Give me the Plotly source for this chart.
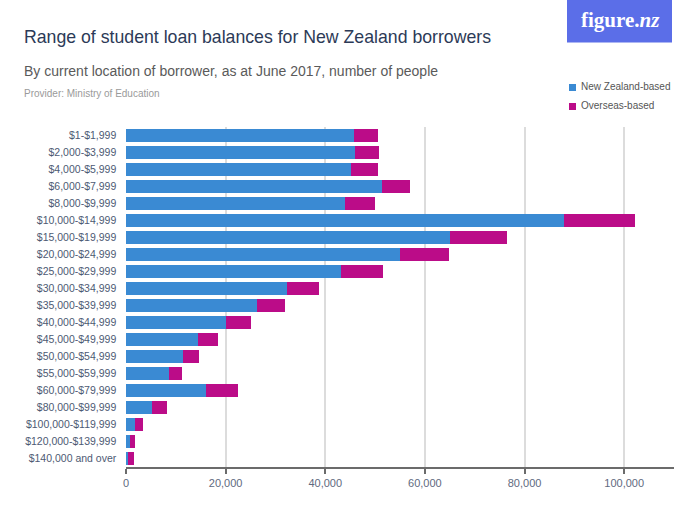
import plotly.graph_objects as go

# Loan balance bands (top to bottom)
categories = [
    "$1-$1,999", "$2,000-$3,999", "$4,000-$5,999", "$6,000-$7,999",
    "$8,000-$9,999", "$10,000-$14,999", "$15,000-$19,999", "$20,000-$24,999",
    "$25,000-$29,999", "$30,000-$34,999", "$35,000-$39,999", "$40,000-$44,999",
    "$45,000-$49,999", "$50,000-$54,999", "$55,000-$59,999", "$60,000-$79,999",
    "$80,000-$99,999", "$100,000-$119,999", "$120,000-$139,999", "$140,000 and over",
]

# Number of borrowers by current location
nz_based = [45800, 45900, 45100, 51400, 43900, 87900, 65000, 55000, 43100, 32400,
            26300, 20000, 14500, 11400, 8600, 16100, 5200, 1900, 800, 500]
overseas_based = [4700, 4900, 5500, 5700, 6000, 14200, 11400, 9800, 8500, 6400,
                  5700, 5000, 3900, 3200, 2600, 6400, 3000, 1600, 1000, 1200]

series_names = ["New Zealand-based", "Overseas-based"]

x_ticks = [0, 20000, 40000, 60000, 80000, 100000]
x_tick_labels = ["0", "20,000", "40,000", "60,000", "80,000", "100,000"]

BLUE = "#3a8ad3"
MAGENTA = "#bb0c88"
FONT = "Liberation Sans"

W, H = 700, 525
L, R, T, B = 126, 26, 127, 58
PW, PH = W - L - R, H - T - B


def px(x):
    return (x - L) / PW


def py(y):
    return (H - B - y) / PH


fig = go.Figure()
for name, values, color in zip(series_names, [nz_based, overseas_based], [BLUE, MAGENTA]):
    fig.add_trace(go.Bar(
        y=categories, x=values, orientation="h", name=name,
        marker=dict(color=color, line=dict(width=0)),
    ))

fig.update_layout(
    width=W, height=H, autosize=False,
    margin=dict(l=L, r=R, t=T, b=B),
    paper_bgcolor="white", plot_bgcolor="white",
    barmode="stack", bargap=0.2,
    font=dict(family=FONT, size=11, color="#56627a"),
    xaxis=dict(
        range=[0, 110000], tickvals=x_ticks, ticktext=x_tick_labels,
        showgrid=True, gridcolor="#dcdcdc", gridwidth=1.5,
        showline=True, linecolor="#6b6b6b", linewidth=1.5,
        ticks="outside", ticklen=5, tickcolor="#6b6b6b", tickwidth=1.5,
        tickfont=dict(size=11, color="#5f6a80"), zeroline=False, fixedrange=True,
    ),
    yaxis=dict(
        autorange="reversed", showgrid=False, showline=False, ticks="",
        tickfont=dict(size=10.5, color="#4d5a73"), ticksuffix="   ",
    ),
    showlegend=False,
)

# Legend swatches and labels
for i, (name, color) in enumerate(zip(series_names, [BLUE, MAGENTA])):
    cy = 87.5 + 19 * i
    fig.add_shape(
        type="rect", xref="paper", yref="paper",
        x0=px(569), x1=px(576), y0=py(cy + 3.5), y1=py(cy - 3.5),
        fillcolor=color, line=dict(width=0),
    )
    fig.add_annotation(
        xref="paper", yref="paper", x=px(579), y=py(cy - 1),
        text=name, showarrow=False, xanchor="left", yanchor="middle",
        font=dict(family=FONT, size=10, color="#555555"),
    )

# Brand badge in the top-right corner
fig.add_shape(
    type="rect", xref="paper", yref="paper",
    x0=px(567), x1=px(672), y0=py(42.5), y1=py(0),
    fillcolor="#5b6ee8", line=dict(width=0), layer="above",
)
fig.add_annotation(
    xref="paper", yref="paper", x=px(620), y=py(20),
    text="<b>figure.<i>nz</i></b>", showarrow=False,
    font=dict(family="Liberation Serif, DejaVu Serif", size=21, color="white"),
    xanchor="center", yanchor="middle",
)

# Title block
fig.add_annotation(
    xref="paper", yref="paper", x=px(22), y=py(37),
    text="Range of student loan balances for New Zealand borrowers",
    showarrow=False, xanchor="left", yanchor="middle",
    font=dict(family=FONT, size=17.7, color="#2c3a57"),
)
fig.add_annotation(
    xref="paper", yref="paper", x=px(22), y=py(71),
    text="By current location of borrower, as at June 2017, number of people",
    showarrow=False, xanchor="left", yanchor="middle",
    font=dict(family=FONT, size=14, color="#5a5a5a"),
)
fig.add_annotation(
    xref="paper", yref="paper", x=px(22), y=py(94),
    text="Provider: Ministry of Education",
    showarrow=False, xanchor="left", yanchor="middle",
    font=dict(family=FONT, size=10, color="#9a9a9a"),
)

fig.write_html("out.html", config={"responsive": False})
